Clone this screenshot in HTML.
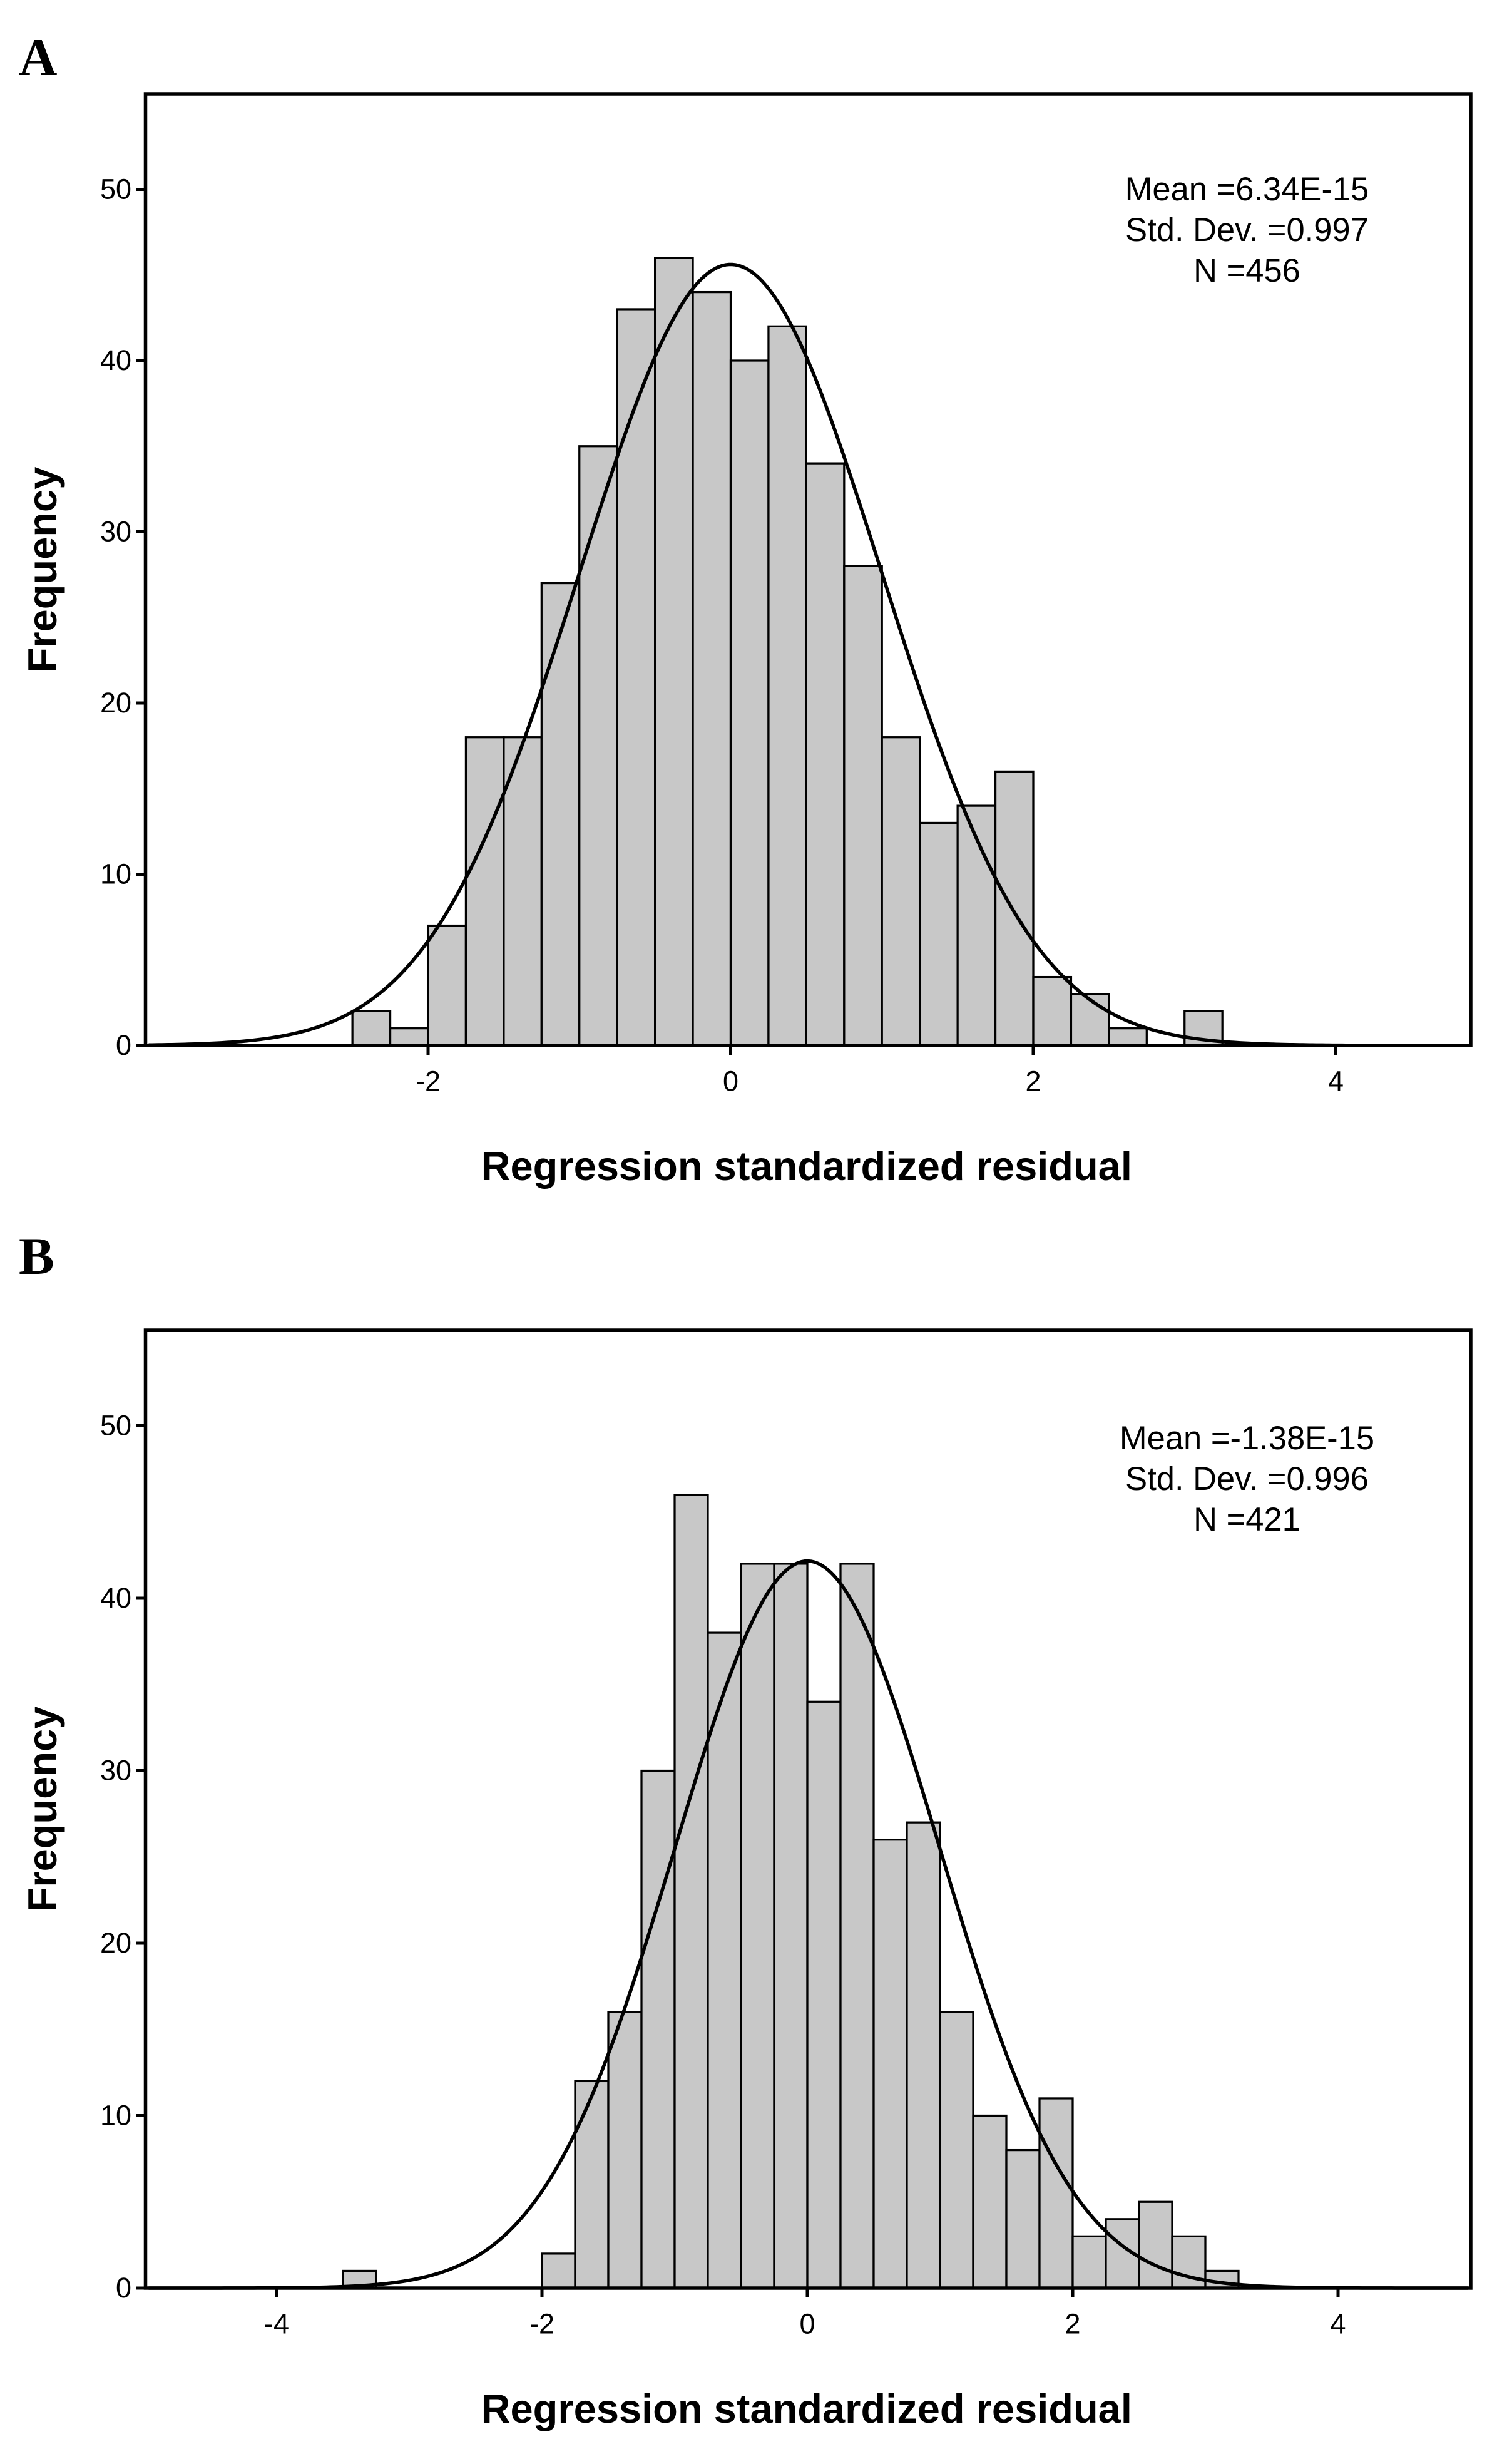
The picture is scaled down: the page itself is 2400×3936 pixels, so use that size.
<!DOCTYPE html>
<html><head><meta charset="utf-8"><style>
html,body{margin:0;padding:0;background:#fff;}
svg{display:block;}
</style></head><body>
<svg id="fig" width="2400" height="3936" viewBox="0 0 960 1574.4" xmlns="http://www.w3.org/2000/svg" font-family="Liberation Sans, Arial, sans-serif">
<rect width="960" height="1574.4" fill="#fff"/>
</svg>
<script>
// Panel A data
const binStartA = -2.5;
const binWidthA = 0.25;
const countsA = [2,1,7,18,18,27,35,43,46,44,40,42,34,28,18,13,14,16,4,3,1,0,2];
const statsA = ["Mean =6.34E-15","Std. Dev. =0.997","N =456"];
const meanA = 0, sdA = 0.997, nA = 456;
const xTicksA = [-2,0,2,4];
const yTicksA = [0,10,20,30,40,50];
// Panel B data
const binStartB = -3.5;
const binWidthB = 0.25;
const countsB = [1,0,0,0,0,0,2,12,16,30,46,38,42,42,34,42,26,27,16,10,8,11,3,4,5,3,1];
const statsB = ["Mean =-1.38E-15","Std. Dev. =0.996","N =421"];
const meanB = 0, sdB = 0.996, nB = 421;
const xTicksB = [-4,-2,0,2,4];
const yTicksB = [0,10,20,30,40,50];

const NS = "http://www.w3.org/2000/svg";
const svg = document.getElementById('fig');
function mk(tag, attrs, parent){
  const e = document.createElementNS(NS, tag);
  for (const k in attrs) e.setAttribute(k, attrs[k]);
  (parent||svg).appendChild(e);
  return e;
}

function panel(cfg){
  const g = mk('g', {});
  
  
  const L=cfg.left, R=cfg.right, T=cfg.top, B=cfg.bottom;
  const xs = v => cfg.x0px + (v - 0) * cfg.pxPerUnit;
  const ys = v => B - v * cfg.pxPer10 / 10;
  const lab = mk('text', {x:12, y:cfg.labelY, 'font-family':'Liberation Serif, serif', 'font-weight':'bold', 'font-size':34, fill:'#000'}, g);
  lab.textContent = cfg.letter;
  
  
  cfg.counts.forEach((c,i)=>{
    if (c<=0) return;
    const x1 = xs(cfg.binStart + i*cfg.binWidth), x2 = xs(cfg.binStart + (i+1)*cfg.binWidth);
    const r = mk('rect', {x:x1, y:ys(c), width:x2-x1, height:B-ys(c), fill:'#c8c8c8', stroke:'#000', 'stroke-width':1.3}, g);
    
    
  });
  const amp = cfg.n*cfg.binWidth/(cfg.sd*Math.sqrt(2*Math.PI));
  let d = '';
  const vmin = (L+2-cfg.x0px)/cfg.pxPerUnit, vmax = (R-2-cfg.x0px)/cfg.pxPerUnit;
  for (let k=0;k<=400;k++){
    const v = vmin + (vmax-vmin)*k/400;
    const f = amp*Math.exp(-0.5*Math.pow((v-cfg.mean)/cfg.sd,2));
    d += (k?'L':'M') + xs(v).toFixed(2) + ' ' + ys(f).toFixed(2);
  }
  const p = mk('path', {d:d, fill:'none', stroke:'#000', 'stroke-width':2.2}, g);
  
  
  const fr = mk('rect', {x:L, y:T, width:R-L, height:B-T, fill:'none', stroke:'#000', 'stroke-width':2.2}, g);
  
  
  cfg.yTicks.forEach(t=>{
    mk('line', {x1:L-6, x2:L, y1:ys(t), y2:ys(t), stroke:'#000', 'stroke-width':2}, g);
    const tx = mk('text', {x:L-9, y:ys(t)+6, 'text-anchor':'end', 'font-size':18, fill:'#000'}, g);
    tx.textContent = t;
    
    
  });
  cfg.xTicks.forEach(t=>{
    mk('line', {x1:xs(t), x2:xs(t), y1:B, y2:B+6, stroke:'#000', 'stroke-width':2}, g);
    const tx = mk('text', {x:xs(t), y:B+29, 'text-anchor':'middle', 'font-size':18, fill:'#000'}, g);
    tx.textContent = t;
    
    
  });
  const xt = mk('text', {x:(L+R)/2-1, y:B+86, 'text-anchor':'middle', 'font-size':26, 'font-weight':'bold', fill:'#000'}, g);
  xt.textContent = 'Regression standardized residual';
  
  
  const yc = (T+B)/2;
  const yt = mk('text', {x:0, y:0, transform:`translate(36,${yc}) rotate(-90)`, 'text-anchor':'middle', 'font-size':26, 'font-weight':'bold', fill:'#000'}, g);
  yt.textContent = 'Frequency';
  
  
  cfg.stats.forEach((s,i)=>{
    const st = mk('text', {x:cfg.statsX, y:cfg.statsY + i*26, 'text-anchor':'middle', 'font-size':21, fill:'#000'}, g);
    st.textContent = s;
    
    
  });
}

panel({name:'panel-a', letter:'A', labelY:48, left:93, right:940, top:60, bottom:668,
  x0px:467, pxPerUnit:96.7, pxPer10:109.4, counts:countsA, binStart:binStartA, binWidth:binWidthA,
  mean:meanA, sd:sdA, n:nA, xTicks:xTicksA, yTicks:yTicksA, stats:statsA, statsX:797, statsY:128});
panel({name:'panel-b', letter:'B', labelY:814, left:93, right:940, top:850, bottom:1462,
  x0px:516, pxPerUnit:84.8, pxPer10:110.2, counts:countsB, binStart:binStartB, binWidth:binWidthB,
  mean:meanB, sd:sdB, n:nB, xTicks:xTicksB, yTicks:yTicksB, stats:statsB, statsX:797, statsY:926});
</script>
</body></html>
